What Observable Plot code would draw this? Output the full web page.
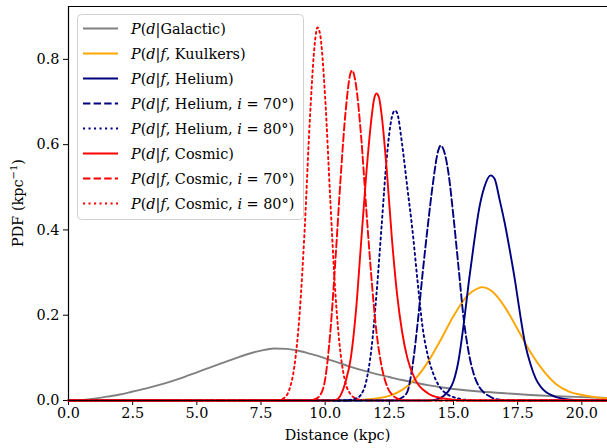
<!DOCTYPE html>
<html>
<head>
<meta charset="utf-8">
<script src="https://cdn.jsdelivr.net/npm/d3@7"></script>
<script src="https://cdn.jsdelivr.net/npm/@observablehq/plot@0.6"></script>
<style>
  html, body { margin: 0; padding: 0; background: #fff; }
  #chart { width: 607px; height: 448px; overflow: hidden; }
  #chart svg, #chart svg text { font-family: "DejaVu Serif", serif !important; }
</style>
</head>
<body>
<div id="chart"></div>
<script>
// ---- data : [distance kpc, PDF] ----
const galactic = [[0,0],[0.5,0.001],[1,0.004],[1.5,0.009],[2,0.014],[2.5,0.021],[3,0.028],[3.5,0.036],[4,0.045],[4.5,0.055],[5,0.066],[5.5,0.077],[6,0.088],[6.5,0.099],[7,0.109],[7.5,0.117],[8,0.122],[8.5,0.121],[9,0.116],[9.5,0.108],[10,0.099],[10.5,0.089],[11,0.079],[11.5,0.07],[12,0.062],[12.5,0.055],[13,0.048],[13.5,0.042],[14,0.036],[14.5,0.031],[15,0.027],[16,0.021],[17,0.017],[18,0.013],[19,0.010],[20,0.008],[21,0.006]];
const kuulkers = [[0,0],[11,0],[11.5,0.002],[12,0.005],[12.5,0.011],[13,0.025],[13.5,0.05],[14,0.09],[14.5,0.142],[15,0.198],[15.5,0.243],[16,0.264],[16.1,0.266],[16.5,0.256],[17,0.219],[17.5,0.167],[18,0.113],[18.5,0.07],[19,0.038],[19.5,0.021],[20,0.013],[20.5,0.008],[21,0.005]];
const helium = [[0,0],[14,0],[14.2,0.001],[14.4,0.004],[14.6,0.01],[14.8,0.022],[15,0.045],[15.2,0.095],[15.4,0.18],[15.6,0.28],[15.8,0.37],[16,0.45],[16.2,0.5],[16.45,0.528],[16.6,0.52],[16.8,0.47],[17,0.415],[17.2,0.35],[17.4,0.28],[17.6,0.2],[17.8,0.13],[18,0.085],[18.2,0.052],[18.4,0.032],[18.6,0.02],[18.8,0.013],[19,0.008],[19.4,0.003],[19.8,0.001],[20.2,0],[21,0]];
const helium70 = [[0,0],[12.6,0],[12.8,0.002],[13,0.007],[13.2,0.02],[13.4,0.08],[13.6,0.18],[13.8,0.3],[14,0.41],[14.2,0.51],[14.4,0.585],[14.5,0.598],[14.6,0.59],[14.8,0.535],[15,0.43],[15.2,0.31],[15.4,0.19],[15.6,0.11],[15.8,0.06],[16,0.032],[16.2,0.018],[16.4,0.01],[16.6,0.004],[16.8,0.002],[17,0.001],[17.3,0],[21,0]];
const helium80 = [[0,0],[10.8,0],[11,0.002],[11.2,0.005],[11.4,0.014],[11.6,0.045],[11.8,0.12],[12,0.25],[12.2,0.41],[12.4,0.57],[12.6,0.665],[12.72,0.68],[12.8,0.675],[13,0.6],[13.2,0.5],[13.4,0.4],[13.6,0.28],[13.8,0.17],[14,0.105],[14.2,0.065],[14.4,0.038],[14.6,0.022],[14.8,0.013],[15,0.008],[15.3,0.003],[15.6,0.001],[16,0],[21,0]];
const cosmic = [[0,0],[10.2,0],[10.4,0.001],[10.6,0.012],[10.8,0.045],[11,0.1],[11.2,0.21],[11.4,0.37],[11.6,0.53],[11.8,0.66],[11.9,0.705],[12,0.72],[12.1,0.71],[12.2,0.67],[12.4,0.54],[12.6,0.38],[12.8,0.25],[13,0.16],[13.2,0.1],[13.5,0.05],[14,0.017],[14.5,0.006],[15,0.002],[15.5,0],[21,0]];
const cosmic70 = [[0,0],[9.4,0],[9.6,0.003],[9.8,0.012],[10,0.05],[10.2,0.16],[10.4,0.33],[10.6,0.52],[10.8,0.68],[11,0.77],[11.05,0.774],[11.2,0.74],[11.4,0.62],[11.6,0.45],[11.8,0.29],[12,0.16],[12.2,0.08],[12.4,0.035],[12.6,0.014],[12.8,0.005],[13,0.001],[13.3,0],[21,0]];
const cosmic80 = [[0,0],[8,0],[8.2,0.001],[8.4,0.006],[8.6,0.025],[8.8,0.08],[9,0.2],[9.2,0.4],[9.4,0.655],[9.6,0.84],[9.7,0.875],[9.8,0.86],[10,0.71],[10.2,0.47],[10.4,0.25],[10.6,0.11],[10.8,0.04],[11,0.014],[11.2,0.005],[11.4,0.001],[11.7,0],[21,0]];

const seriesLabels = ["P(d|Galactic)","P(d|f, Kuulkers)","P(d|f, Helium)","P(d|f, Helium, i = 70°)","P(d|f, Helium, i = 80°)","P(d|f, Cosmic)","P(d|f, Cosmic, i = 70°)","P(d|f, Cosmic, i = 80°)"];
const seriesColors = ["gray","orange","navy","navy","navy","red","red","red"];
const seriesDash = [null,null,null,"7.4,3.2","2.1,3.4",null,"7.4,3.2","2.1,3.4"];
const seriesData = [galactic,kuulkers,helium,helium70,helium80,cosmic,cosmic70,cosmic80];

const xTicks = [0,2.5,5,7.5,10,12.5,15,17.5,20];
const yTicks = [0,0.2,0.4,0.6,0.8];
const xLabel = "Distance (kpc)";

const FONT = '"DejaVu Serif", serif';

const lineMarks = seriesData.map((arr, i) => Plot.line(arr, {
  x: d => d[0], y: d => d[1],
  stroke: seriesColors[i], strokeWidth: 1.9,
  strokeDasharray: seriesDash[i] || undefined,
  curve: "monotone-x"
}));

const chart = Plot.plot({
  width: 607, height: 448,
  marginLeft: 68, marginRight: 0, marginTop: 6, marginBottom: 48,
  style: {fontFamily: FONT, fontSize: "14.4px", color: "black", background: "white"},
  x: {domain: [0, 21], ticks: xTicks, tickFormat: d3.format(".1f"), tickSize: 5, tickPadding: 2, label: null},
  y: {domain: [0, 0.924], ticks: yTicks, tickFormat: d3.format(".1f"), tickSize: 5, tickPadding: 4, label: null},
  marks: [
    ...lineMarks,
    Plot.ruleX([0], {stroke: "black", strokeWidth: 1.2}),
    Plot.ruleY([0], {stroke: "black", strokeWidth: 1.2}),
    Plot.ruleY([0.924], {stroke: "black", strokeWidth: 1.2})
  ]
});

document.getElementById("chart").appendChild(chart);

// ---- axis labels and legend as real SVG text ----
const svg = d3.select(chart);

svg.append("text")
  .attr("x", (68 + 607) / 2).attr("y", 440)
  .attr("text-anchor", "middle")
  .style("font-family", FONT).style("font-size", "14.4px")
  .text(xLabel);

const yl = svg.append("text")
  .attr("transform", "translate(23,203) rotate(-90)")
  .attr("text-anchor", "middle")
  .style("font-family", FONT).style("font-size", "14.4px");
yl.append("tspan").text("PDF (kpc");
yl.append("tspan").attr("dy", -6).style("font-size", "10px").text("−1");
yl.append("tspan").attr("dy", 6).text(")");

// legend
const lg = svg.append("g").attr("text-anchor", "start");
lg.append("rect")
  .attr("x", 77.5).attr("y", 14.5).attr("width", 226).attr("height", 205)
  .attr("rx", 4).attr("fill", "white").attr("fill-opacity", 0.85)
  .attr("stroke", "#d0d0d0").attr("stroke-width", 1);
seriesLabels.forEach((lab, i) => {
  const cy = 28.5 + i * 25;
  lg.append("line")
    .attr("x1", 83).attr("x2", 118).attr("y1", cy).attr("y2", cy)
    .attr("stroke", seriesColors[i]).attr("stroke-width", 1.9)
    .attr("stroke-dasharray", seriesDash[i]);
  const t = lg.append("text")
    .attr("x", 131).attr("y", cy + 5)
    .attr("text-anchor", "start")
    .style("font-family", FONT).style("font-size", "14.4px");
  lab.split(/\b([Pdfi])\b/).forEach((part, k) => {
    if (!part) return;
    const s = t.append("tspan").text(part);
    if (k % 2 === 1) s.style("font-style", "italic");
  });
});
</script>
</body>
</html>
